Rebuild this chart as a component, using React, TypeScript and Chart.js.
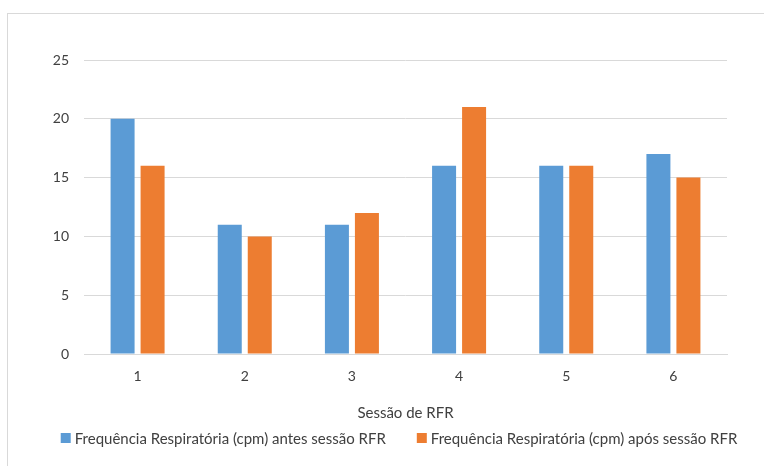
import React, { useEffect, useRef } from "react";
import { Chart, registerables } from "chart.js";

Chart.register(...registerables);

const categories = ["1", "2", "3", "4", "5", "6"];
const antes = [20, 11, 11, 16, 16, 17];
const apos = [16, 10, 12, 21, 16, 15];
const seriesNames = [
  "Frequência Respiratória (cpm) antes sessão RFR",
  "Frequência Respiratória (cpm) após sessão RFR",
];
const xTitle = "Sessão de RFR";

const fam = "Lato, 'Open Sans', sans-serif";
const col = "#404040";

const legendPlugin = {
  id: "customLegend",
  afterDraw(chart: any) {
    const ctx = chart.ctx;
    ctx.save();
    ctx.font = `15px ${fam}`;
    ctx.textBaseline = "middle";
    ctx.textAlign = "left";
    const box = 10, gapText = 4, gapItems = 31;
    const ds = chart.data.datasets;
    const widths = ds.map((d: any) => box + gapText + ctx.measureText(d.label).width);
    const total = widths.reduce((a: number, b: number) => a + b, 0) + gapItems * (ds.length - 1);
    const cx = 399;
    const cy = 438;
    let x = cx - total / 2;
    ds.forEach((d: any, i: number) => {
      ctx.fillStyle = d.backgroundColor;
      ctx.fillRect(x, cy - box / 2, box, box);
      ctx.fillStyle = col;
      ctx.fillText(d.label, x + box + gapText, cy + 1);
      x += widths[i] + gapItems;
    });
    ctx.restore();
  },
};

export default function App() {
  const ref = useRef<HTMLCanvasElement | null>(null);
  useEffect(() => {
    if (!ref.current) return;
    const tickFont = { family: fam, size: 14 };
    const bigFont = { family: fam, size: 15 };
    const chart = new Chart(ref.current, {
      type: "bar",
      data: {
        labels: categories,
        datasets: [
          { label: seriesNames[0], data: antes, backgroundColor: "#5B9BD5", barPercentage: 0.8, categoryPercentage: 0.56 },
          { label: seriesNames[1], data: apos, backgroundColor: "#ED7D31", barPercentage: 0.8, categoryPercentage: 0.56 },
        ],
      },
      plugins: [legendPlugin],
      options: {
        responsive: false,
        animation: false,
        layout: { padding: { left: 0, top: 60, right: 37, bottom: 44 } },
        plugins: {
          tooltip: { enabled: false },
          legend: { display: false },
        },
        scales: {
          x: {
            grid: { display: false, drawTicks: false },
            border: { display: true, color: "#d9d9d9" },
            ticks: { color: col, font: tickFont, padding: 14 },
            title: { display: true, text: xTitle, color: col, font: bigFont, padding: { top: 8, bottom: 0 } },
            afterFit: (s: any) => { s.height = 68; },
          },
          y: {
            min: 0,
            max: 25,
            ticks: { stepSize: 5, color: col, font: tickFont, padding: 15 },
            grid: { color: "#d9d9d9", drawTicks: false },
            border: { display: false },
            afterFit: (s: any) => { s.width = 84; },
          },
        },
      },
    });
    return () => chart.destroy();
  }, []);
  return (
    <div style={{ position: "fixed", left: 0, top: 0, width: 764, height: 466, background: "#fff", overflow: "hidden" }}>
      <div style={{ position: "absolute", left: 7, top: 13, width: 800, height: 500, border: "1px solid #d9d9d9" }} />
      <canvas ref={ref} width={764} height={466} style={{ position: "absolute", left: 0, top: 0 }} />
    </div>
  );
}
